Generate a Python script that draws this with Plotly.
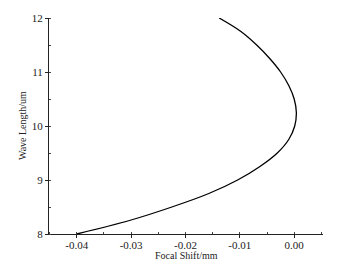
import plotly.graph_objects as go

wavelength = [8.0, 8.25, 8.5, 8.75, 9.0, 9.25, 9.5, 9.75, 10.0, 10.25, 10.5, 10.75, 11.0, 11.25, 11.5, 11.75, 12.0]
focal_shift = [-0.0400, -0.0303, -0.0225, -0.0157, -0.0104, -0.0063, -0.0031, -0.0010, 0.0001, 0.0004, 0.0000,
               -0.0010, -0.0025, -0.0045, -0.0069, -0.0098, -0.0138]

x_ticks = [-0.04, -0.03, -0.02, -0.01, 0.0]
x_tick_labels = ["-0.04", "-0.03", "-0.02", "-0.01", "0.00"]
y_ticks = [8, 9, 10, 11, 12]

fig = go.Figure()
fig.add_trace(go.Scatter(x=focal_shift, y=wavelength, mode="lines",
                         line=dict(color="black", width=1.3, shape="spline", smoothing=1.0),
                         showlegend=False, hoverinfo="skip"))

font = dict(family="Liberation Serif", size=10, color="#222")
tfont = dict(family="Liberation Serif", size=11, color="#222")

fig.update_layout(
    width=337, height=271,
    margin=dict(l=49, r=14, t=14, b=37),
    paper_bgcolor="white", plot_bgcolor="white",
    font=font,
    xaxis=dict(range=[-0.0451, 0.0053], tickvals=x_ticks, ticktext=x_tick_labels,
               showgrid=False, zeroline=False, showline=True, linecolor="#222", linewidth=1,
               ticks="outside", ticklen=3, tickcolor="#222", ticklabelstandoff=-2,
               minor=dict(dtick=0.005, ticks="inside", ticklen=2, tickcolor="#444", showgrid=False),
               tickfont=tfont),
    yaxis=dict(range=[8, 12], tickvals=y_ticks,
               showgrid=False, zeroline=False, showline=True, linecolor="#222", linewidth=1,
               ticks="outside", ticklen=3, tickcolor="#222",
               minor=dict(dtick=0.5, ticks="inside", ticklen=2, tickcolor="#444", showgrid=False),
               tickfont=tfont),
    annotations=[
        dict(text="Focal Shift/mm", xref="paper", yref="paper", x=0.5, y=0, yshift=-21,
             xanchor="center", yanchor="middle", showarrow=False, font=font),
        dict(text="Wave Length/um", xref="paper", yref="paper", x=0, y=0.5, xshift=-27,
             xanchor="center", yanchor="middle", textangle=-90, showarrow=False, font=font),
    ],
)

fig.write_html("out.html")
